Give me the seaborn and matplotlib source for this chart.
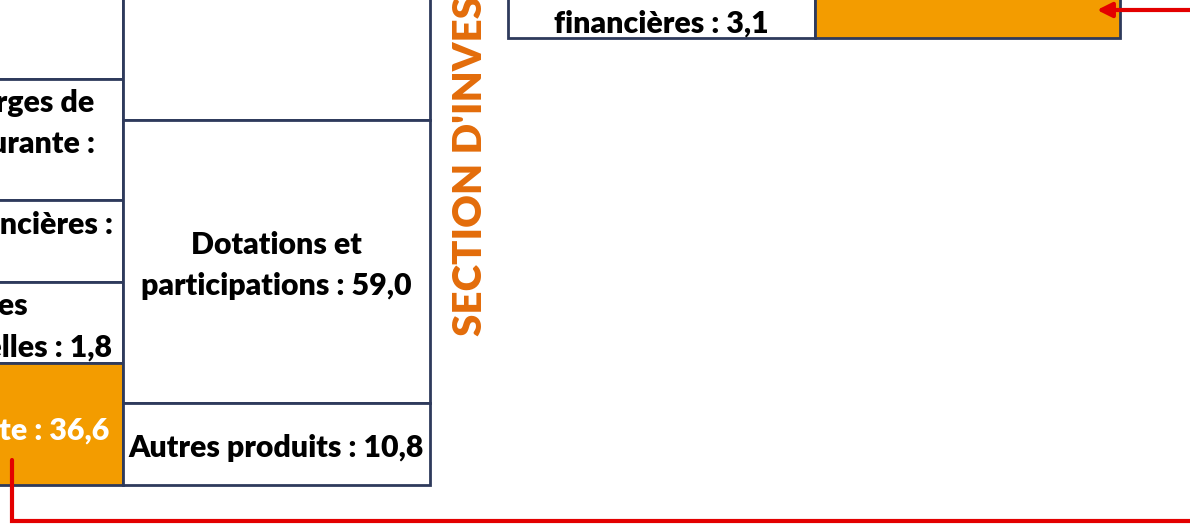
import matplotlib
matplotlib.use("Agg")
import matplotlib.pyplot as plt
import seaborn as sns

sns.set_theme(style="white")
plt.rcParams['font.family'] = ['Lato', 'DejaVu Sans']

# ---- data (labels / values) ----
left_labels = ["", "Autres charges de\ngestion courante :\n", "Charges financières :\n",
               "Charges\nexceptionnelles : 1,8", "Épargne brute : 36,6"]
mid_labels = ["", "Dotations et\nparticipations : 59,0", "Autres produits : 10,8"]
inv_labels = ["\nfinancières : 3,1", ""]
section_title = "SECTION D'INVESTISSEMENT"

# ---- layout (pixel frame) ----
W, H = 1190, 525
NAVY = "#2E3A5C"
ORANGE = "#F39C00"
TITLE_ORANGE = "#E36C0A"
RED = "#E30000"
FS = 21.8
WEIGHT = "heavy"
STEP = 41

left_x, left_w = -179, 302
left_tops = [-60, 79, 200, 282, 363]
left_bots = [79, 200, 282, 363, 485]
left_fill = ["white", "white", "white", "white", ORANGE]
left_tcol = ["black"] * 4 + ["white"]

mid_x, mid_w = 123, 307
mid_tops = [-60, 120, 403]
mid_bots = [120, 403, 485]

inv_x = [508, 815]
inv_w = [307, 305]
inv_top, inv_bot = -40, 38

fig = plt.figure(figsize=(W / 100, H / 100), dpi=100)
ax = fig.add_axes([0, 0, 1, 1])
ax.set_xlim(0, W)
ax.set_ylim(H, 0)
ax.axis("off")


def put_lines(cx, top, bot, label, color):
    lines = label.split("\n")
    n = len(lines)
    cy = (top + bot) / 2 + 4.5
    for i, ln in enumerate(lines):
        if ln:
            ax.text(cx, cy + (i - (n - 1) / 2) * STEP, ln, ha="center",
                    va="center", fontsize=FS, fontweight=WEIGHT, color=color,
                    zorder=3)


# left column
ax.bar([left_x] * len(left_tops), [b - t for t, b in zip(left_tops, left_bots)],
       width=left_w, bottom=left_tops, align="edge", color=left_fill,
       edgecolor=NAVY, linewidth=2, zorder=2)
for lab, t, b, tc in zip(left_labels, left_tops, left_bots, left_tcol):
    if lab:
        put_lines(left_x + left_w / 2, t, b, lab, tc)

# middle column
ax.bar([mid_x] * len(mid_tops), [b - t for t, b in zip(mid_tops, mid_bots)],
       width=mid_w, bottom=mid_tops, align="edge", color="white",
       edgecolor=NAVY, linewidth=2, zorder=2)
for lab, t, b in zip(mid_labels, mid_tops, mid_bots):
    if lab:
        put_lines(mid_x + mid_w / 2, t, b, lab, "black")

# investment section boxes
ax.bar(inv_x, [inv_bot - inv_top] * 2, width=inv_w, bottom=inv_top,
       align="edge", color=["white", ORANGE], edgecolor=NAVY, linewidth=2, zorder=2)
put_lines(inv_x[0] + inv_w[0] / 2, inv_top, inv_bot, inv_labels[0], "black")

# section title (vertical)
ax.text(471, 336, section_title, rotation=90, rotation_mode="anchor",
        ha="left", va="center", fontsize=29, fontweight="heavy",
        color=TITLE_ORANGE, zorder=3)

# red connectors
ax.plot([12, 12, W + 10], [460, 521, 521], color=RED, linewidth=3,
        solid_joinstyle="miter", zorder=4)
ax.annotate("", xy=(1097, 10), xytext=(W + 10, 10),
            arrowprops=dict(arrowstyle="-|>", color=RED, lw=3,
                            mutation_scale=22, shrinkA=0, shrinkB=0), zorder=4)

fig.savefig("out.png", dpi=100)
